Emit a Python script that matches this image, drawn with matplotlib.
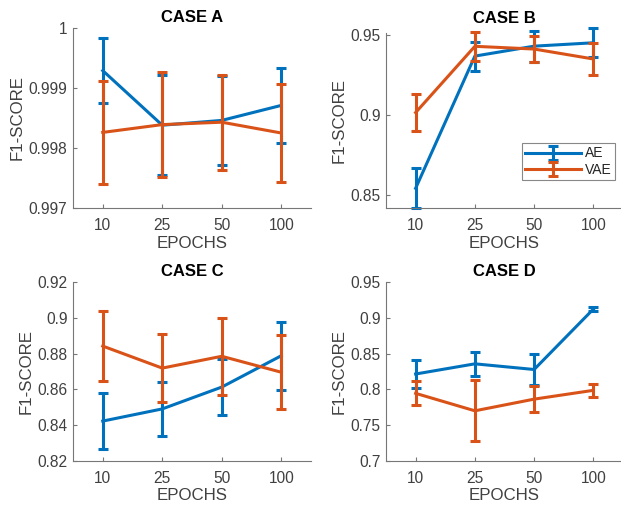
import matplotlib
matplotlib.use("Agg")
import matplotlib.pyplot as plt
import numpy as np

plt.rcParams['font.family'] = ['Liberation Sans', 'DejaVu Sans']

epochs = ["10", "25", "50", "100"]
series = ["AE", "VAE"]

# CASE A
a_ae = [0.99929, 0.99838, 0.99846, 0.99871]
a_ae_err = [0.00054, 0.00083, 0.00074, 0.00063]
a_vae = [0.99826, 0.99839, 0.99843, 0.99825]
a_vae_err = [0.00086, 0.00088, 0.00079, 0.00081]
# CASE B
b_ae = [0.8544, 0.9368, 0.9430, 0.9451]
b_ae_err = [0.0124, 0.0090, 0.0097, 0.0091]
b_vae = [0.9016, 0.9429, 0.9412, 0.9350]
b_vae_err = [0.0115, 0.0091, 0.0082, 0.0102]
# CASE C
c_ae = [0.8423, 0.8491, 0.8613, 0.8788]
c_ae_err = [0.0158, 0.0150, 0.0158, 0.0189]
c_vae = [0.8842, 0.8719, 0.8785, 0.8696]
c_vae_err = [0.0195, 0.0189, 0.0214, 0.0207]
# CASE D
d_ae = [0.8215, 0.8357, 0.8278, 0.9122]
d_ae_err = [0.0191, 0.0165, 0.0221, 0.0028]
d_vae = [0.7945, 0.7701, 0.7864, 0.7987]
d_vae_err = [0.0168, 0.0426, 0.0180, 0.0093]

titles = ["CASE A", "CASE B", "CASE C", "CASE D"]
yticks_a = [0.997, 0.998, 0.999, 1.0]
yticks_b = [0.85, 0.9, 0.95]
yticks_c = [0.82, 0.84, 0.86, 0.88, 0.9, 0.92]
yticks_d = [0.7, 0.75, 0.8, 0.85, 0.9, 0.95]

W, H = 621, 507
fig = plt.figure(figsize=(W / 100, H / 100), dpi=100)

def px_axes(left, right, top, bottom):
    return fig.add_axes([left / W, 1 - bottom / H, (right - left) / W, (bottom - top) / H])

panels = [
    (px_axes(73, 311, 28, 208), a_ae, a_ae_err, a_vae, a_vae_err, yticks_a, (0.997, 1.0), 4.0),
    (px_axes(386, 623, 33, 208), b_ae, b_ae_err, b_vae, b_vae_err, yticks_b, (0.8421, 0.9512), 7.5),
    (px_axes(73, 311, 282, 461), c_ae, c_ae_err, c_vae, c_vae_err, yticks_c, (0.82, 0.92), 4.5),
    (px_axes(386, 623, 282, 461), d_ae, d_ae_err, d_vae, d_vae_err, yticks_d, (0.7, 0.95), 4.5),
]

blue = "#0072BD"
orange = "#D95319"
txt = "#404040"
axc = "#777777"

x = np.arange(1, len(epochs) + 1)
for i, (ax, ae, aee, vae, vaee, yt, yl, tpad) in enumerate(panels):
    for j, (vals, errs, col) in enumerate([(ae, aee, blue), (vae, vaee, orange)]):
        c = ax.errorbar(x, vals, yerr=errs, color=col, lw=2.2, elinewidth=2.2,
                        capsize=3.6, capthick=2.2, label=series[j], zorder=2 + j)
        for art in c.get_children():
            art.set_clip_on(False)
    ax.set_xlim(0.5, 4.5)
    ax.set_ylim(*yl)
    ax.set_xticks(x)
    ax.set_xticklabels(epochs)
    ax.set_yticks(yt)
    ax.set_yticklabels(["%g" % v for v in yt])
    for s in ["top", "right"]:
        ax.spines[s].set_visible(False)
    for s in ["left", "bottom"]:
        ax.spines[s].set_color(axc)
        ax.spines[s].set_linewidth(0.8)
    ax.tick_params(direction="in", length=3, width=0.8, color=axc, labelcolor=txt, labelsize=11.2)
    ax.tick_params(axis="x", pad=7)
    ax.tick_params(axis="y", pad=4)
    ax.set_xlabel("EPOCHS", fontsize=12.2, color=txt, labelpad=2)
    ax.set_ylabel("F1-SCORE", fontsize=12.2, color=txt, labelpad=3)
    ax.set_title(titles[i], fontsize=12, fontweight="bold", color="black", pad=tpad)
    ax.patch.set_alpha(0)
    if i == 1:
        leg = ax.legend(loc="lower right", bbox_to_anchor=(615 / W, 1 - 180 / H),
                        bbox_transform=fig.transFigure, borderaxespad=0, fontsize=10,
                        handlelength=4.0, handleheight=0.6, handletextpad=0.3, labelspacing=0.15,
                        borderpad=0.25, fancybox=False, framealpha=1)
        leg.get_frame().set_edgecolor("#888888")
        leg.get_frame().set_linewidth(0.8)
        for t in leg.get_texts():
            t.set_color("#262626")

fig.savefig("out.png", dpi=100)
